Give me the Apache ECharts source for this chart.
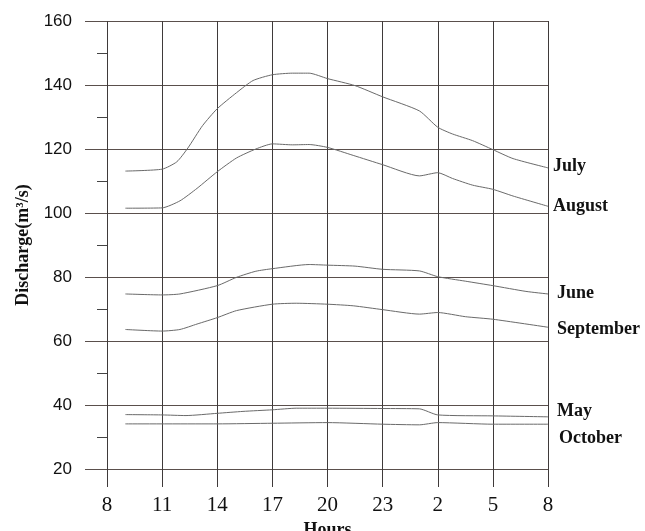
<!DOCTYPE html>
<html>
<head>
<meta charset="utf-8">
<script src="https://cdn.jsdelivr.net/npm/echarts@6/dist/echarts.min.js"></script>
<style>
html,body{margin:0;padding:0;background:#fff;}
#chart{width:645px;height:531px;}
</style>
</head>
<body>
<div id="chart"></div>
<script>
// Hour offsets from 08:00 (0..24), tick labels
const hourLabels = ['8','11','14','17','20','23','2','5','8'];
const yTicks = [20, 40, 60, 80, 100, 120, 140, 160];

// Series: [hour offset from 08:00, discharge m3/s]
const july = [[1,113.1],[3,113.7],[3.8,116],[4.4,120.3],[5.2,127.3],[6,132.6],[7.05,137.6],[7.95,141.4],[9,143.2],[10.1,143.7],[11,143.7],[12,142],[13.5,139.8],[15,136.3],[17,131.9],[18,126.8],[18.8,124.7],[19.9,122.6],[21,119.8],[22.1,117],[24,114.1]];
const august = [[1,101.5],[3,101.6],[3.97,103.8],[4.9,107.7],[6,112.9],[7.05,117.2],[8.1,120],[9,121.6],[10.1,121.3],[11,121.4],[12,120.5],[13.4,118],[15,115.1],[17,111.6],[18,112.6],[18.8,110.8],[19.9,108.7],[21,107.4],[22.1,105.3],[24,102.1]];
const june = [[1,74.7],[3,74.4],[3.97,74.7],[6,77.3],[7.05,79.9],[8.1,81.8],[9,82.6],[11,83.9],[12,83.7],[13.5,83.4],[15,82.4],[17,81.9],[18,80.1],[19.5,78.7],[21,77.3],[22.8,75.5],[24,74.7]];
const september = [[1,63.6],[3,63.1],[3.97,63.6],[4.9,65.3],[6,67.3],[7.05,69.5],[9,71.5],[10.3,71.8],[12,71.5],[13.4,71],[15,69.8],[17,68.4],[18,68.9],[19.5,67.6],[21,66.8],[24,64.3]];
const may = [[1,37],[3,36.9],[4.3,36.7],[6,37.4],[7.4,38],[9,38.5],[10.3,39],[12,39],[15,38.9],[17,38.8],[18,36.9],[21,36.6],[24,36.3]];
const october = [[1,34.1],[6,34.1],[9,34.3],[12,34.5],[15,34],[17,33.8],[18,34.5],[21,34],[24,34]];

const seriesNames = ['July','August','June','September','May','October'];
const seriesData = [july, august, june, september, may, october];
const labelOffsets = [[0,-2],[0,0],[4,-1],[4,2],[4,-5],[6,14]];

const chart = echarts.init(document.getElementById('chart'), null, {renderer:'canvas'});
const gridColor = '#5a4f4c';
const vColor = '#3f3a3a';
const serif = '"Liberation Serif","Times New Roman",serif';

chart.setOption({
  animation: false,
  backgroundColor: '#fff',
  grid: {left: 107, right: 97, top: 21, bottom: 62, containLabel: false, outerBoundsMode: 'none'},
  xAxis: {
    type: 'value', min: 0, max: 24, interval: 3,
    name: 'Hours', nameLocation: 'middle', nameGap: 40,
    nameTextStyle: {fontFamily: serif, fontWeight: 'bold', fontSize: 18, color: '#111'},
    axisLine: {show: false},
    axisTick: {show: true, inside: false, length: 18, lineStyle: {color: vColor, width: 1}},
    axisLabel: {margin: 26, fontFamily: serif, fontSize: 21, color: '#111',
      formatter: v => hourLabels[Math.round(v/3)]},
    splitLine: {show: true, lineStyle: {color: vColor, width: 1}}
  },
  yAxis: {
    type: 'value', min: yTicks[0], max: yTicks[yTicks.length-1], interval: 20,
    name: 'Discharge(m³/s)', nameLocation: 'middle', nameGap: 74, nameRotate: 90,
    nameTextStyle: {fontFamily: serif, fontWeight: 'bold', fontSize: 18, color: '#111'},
    axisLine: {show: false},
    axisTick: {show: true, inside: false, length: 22, lineStyle: {color: gridColor, width: 1}},
    minorTick: {show: true, splitNumber: 2, length: 10, lineStyle: {color: '#444', width: 1}},
    axisLabel: {margin: 35, fontFamily: '"Liberation Sans",Arial,sans-serif', fontSize: 17, color: '#111'},
    splitLine: {show: true, lineStyle: {color: gridColor, width: 1}}
  },
  series: seriesNames.map((n, i) => ({
    name: n, type: 'line', data: seriesData[i],
    smooth: 0.2,
    showSymbol: false, symbol: 'none',
    lineStyle: {color: '#6a6a6a', width: 1},
    endLabel: {show: true, formatter: n, distance: 5, offset: labelOffsets[i],
      fontFamily: serif, fontWeight: 'bold', fontSize: 18, color: '#111'}
  }))
});
</script>
</body>
</html>
